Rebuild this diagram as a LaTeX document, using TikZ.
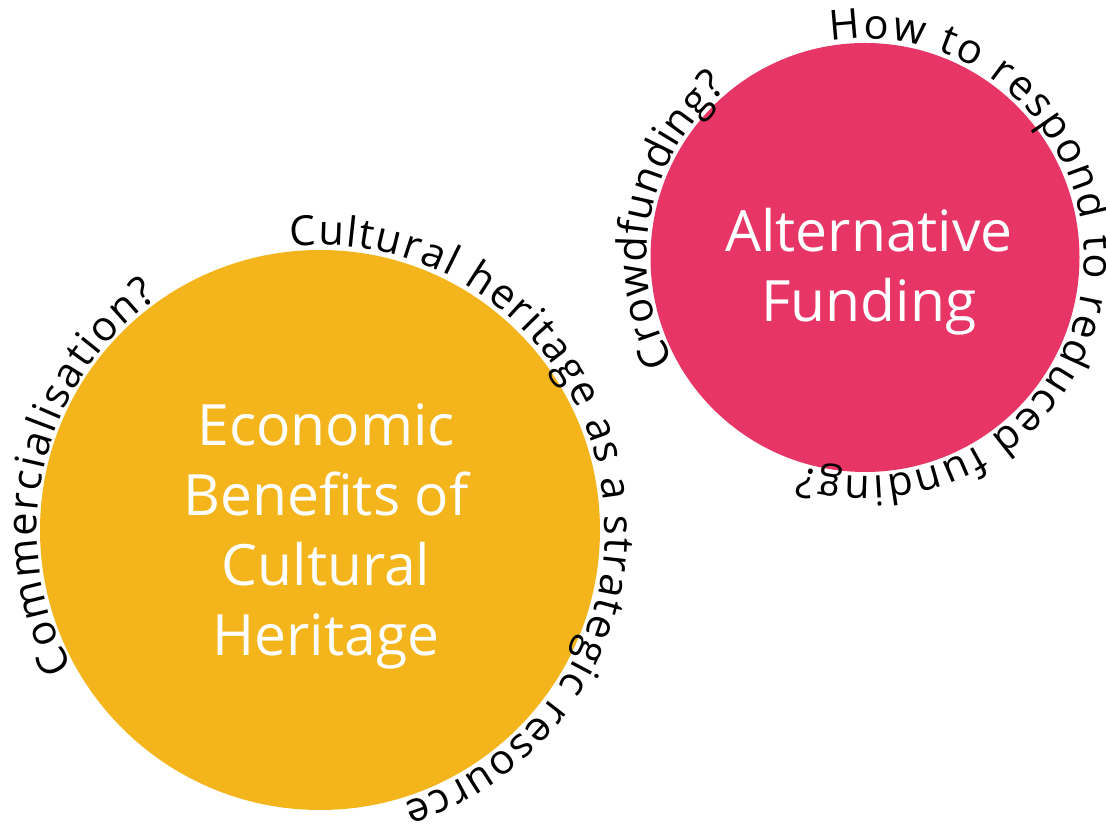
\documentclass[tikz,border=0pt]{standalone}
\usepackage{fontspec}
\setmainfont{Open Sans}
\usetikzlibrary{decorations.text}
\definecolor{gold}{HTML}{F3B51B}
\definecolor{rose}{HTML}{E73566}
\tikzset{
  disc/.style={circle, minimum size=#1, inner sep=0pt, outer sep=0pt},
  title/.style={text=white, align=center, font=\fontsize{57}{70}\selectfont},
  arctext/.style={decorate, decoration={text along path, text align={fit to path},
      text={|\fontsize{41.5}{48}\selectfont|#1}}},
}
\begin{document}
\begin{tikzpicture}[x=1pt,y=1pt]
\useasboundingbox (0,0) rectangle (1106,827);
% circles
\node[disc=560pt, fill=gold] (econ) at (320,297) {};
\node[disc=429pt, fill=rose] (alt) at (865,569.5) {};
% titles
\node[title] (econt) at (326,290.5) {Economic\\Benefits of\\Cultural\\Heritage};
\node[title] (altt) at (869,555.5) {Alternative\\Funding};
% curved texts
\path[arctext={Commercialisation?}] ([shift={(209:283)}]econ.center) arc[start angle=209, end angle=125, radius=283];
\path[arctext={Cultural heritage as a strategic resource}] ([shift={(96:285)}]econ.center) arc[start angle=96, end angle=-73, radius=285];
\path[arctext={Crowdfunding?}] ([shift={(208.5:218)}]alt.center) arc[start angle=208.5, end angle=129.5, radius=218];
\path[arctext={How to respond to reduced funding?}] ([shift={(99:219)}]alt.center) arc[start angle=99, end angle=-107, radius=219];
\end{tikzpicture}
\end{document}
